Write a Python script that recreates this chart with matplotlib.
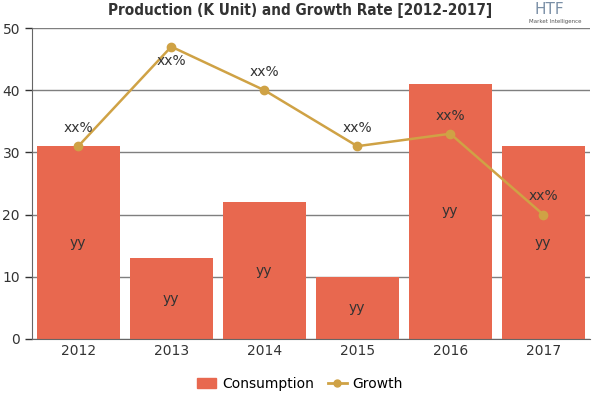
import matplotlib
matplotlib.use("Agg")
import matplotlib.pyplot as plt
from matplotlib.lines import Line2D
from matplotlib.patches import Patch

years = ["2012", "2013", "2014", "2015", "2016", "2017"]
consumption = [31, 13, 22, 10, 41, 31]
growth = [31, 47, 40, 31, 33, 20]
bar_labels = ["yy"] * 6
point_labels = ["xx%"] * 6

bar_color = "#E8684F"
line_color = "#CFA245"
text_color = "#333333"

plt.rcParams['font.family'] = ['DejaVu Sans']
fig = plt.figure(figsize=(6, 4), dpi=100)
ax = fig.add_axes([0.053, 0.1525, 0.93, 0.7775])

x = list(range(len(years)))
ax.bar(x, consumption, width=0.89, color=bar_color, zorder=2)
ax.plot(x, growth, color=line_color, lw=1.8, marker='o', ms=6, zorder=3)

ymax = 50
for xi, v, lab in zip(x, consumption, bar_labels):
    ax.text(xi, v / 2, lab, ha='center', va='center', fontsize=10, color=text_color, zorder=4)
for xi, v, lab in zip(x, growth, point_labels):
    if v > ymax - 5:
        ax.annotate(lab, (xi, v), xytext=(0, -5), textcoords='offset points',
                    ha='center', va='top', fontsize=10, color=text_color, zorder=4)
    else:
        ax.annotate(lab, (xi, v), xytext=(0, 8), textcoords='offset points',
                    ha='center', va='bottom', fontsize=10, color=text_color, zorder=4)

ax.set_xlim(-0.5, 5.5)
ax.set_ylim(0, ymax)
ax.set_yticks([0, 10, 20, 30, 40, 50])
ax.set_xticks(x)
ax.set_xticklabels(years)
ax.tick_params(axis='both', labelsize=10, colors=text_color, length=5, width=1)
ax.tick_params(axis='x', length=0)
ax.grid(axis='y', color='#7f7f7f', lw=1, zorder=0)
for s in ['top', 'right']:
    ax.spines[s].set_visible(False)
ax.spines['left'].set_color('#666666')
ax.spines['bottom'].set_color('#666666')

fig.text(0.5, 0.975, "Production (K Unit) and Growth Rate [2012-2017]",
         ha='center', va='center', fontsize=11, fontweight='bold',
         family=['DejaVu Sans'], fontstretch='condensed', color='#333333')
fig.text(0.915, 0.975, "HTF", ha='center', va='center', fontsize=11, color='#7a8fa6')
fig.text(0.925, 0.945, "Market Intelligence", ha='center', va='center', fontsize=4, color='#555555')

handles = [Patch(color=bar_color, label='Consumption'),
           Line2D([0], [0], color=line_color, lw=2, marker='o', ms=5, label='Growth')]
fig.legend(handles=handles, loc='center', bbox_to_anchor=(0.5, 0.04), ncol=2,
           frameon=False, fontsize=10, handlelength=1.4, columnspacing=1.0, handletextpad=0.4)

fig.savefig("out.png", dpi=100)
